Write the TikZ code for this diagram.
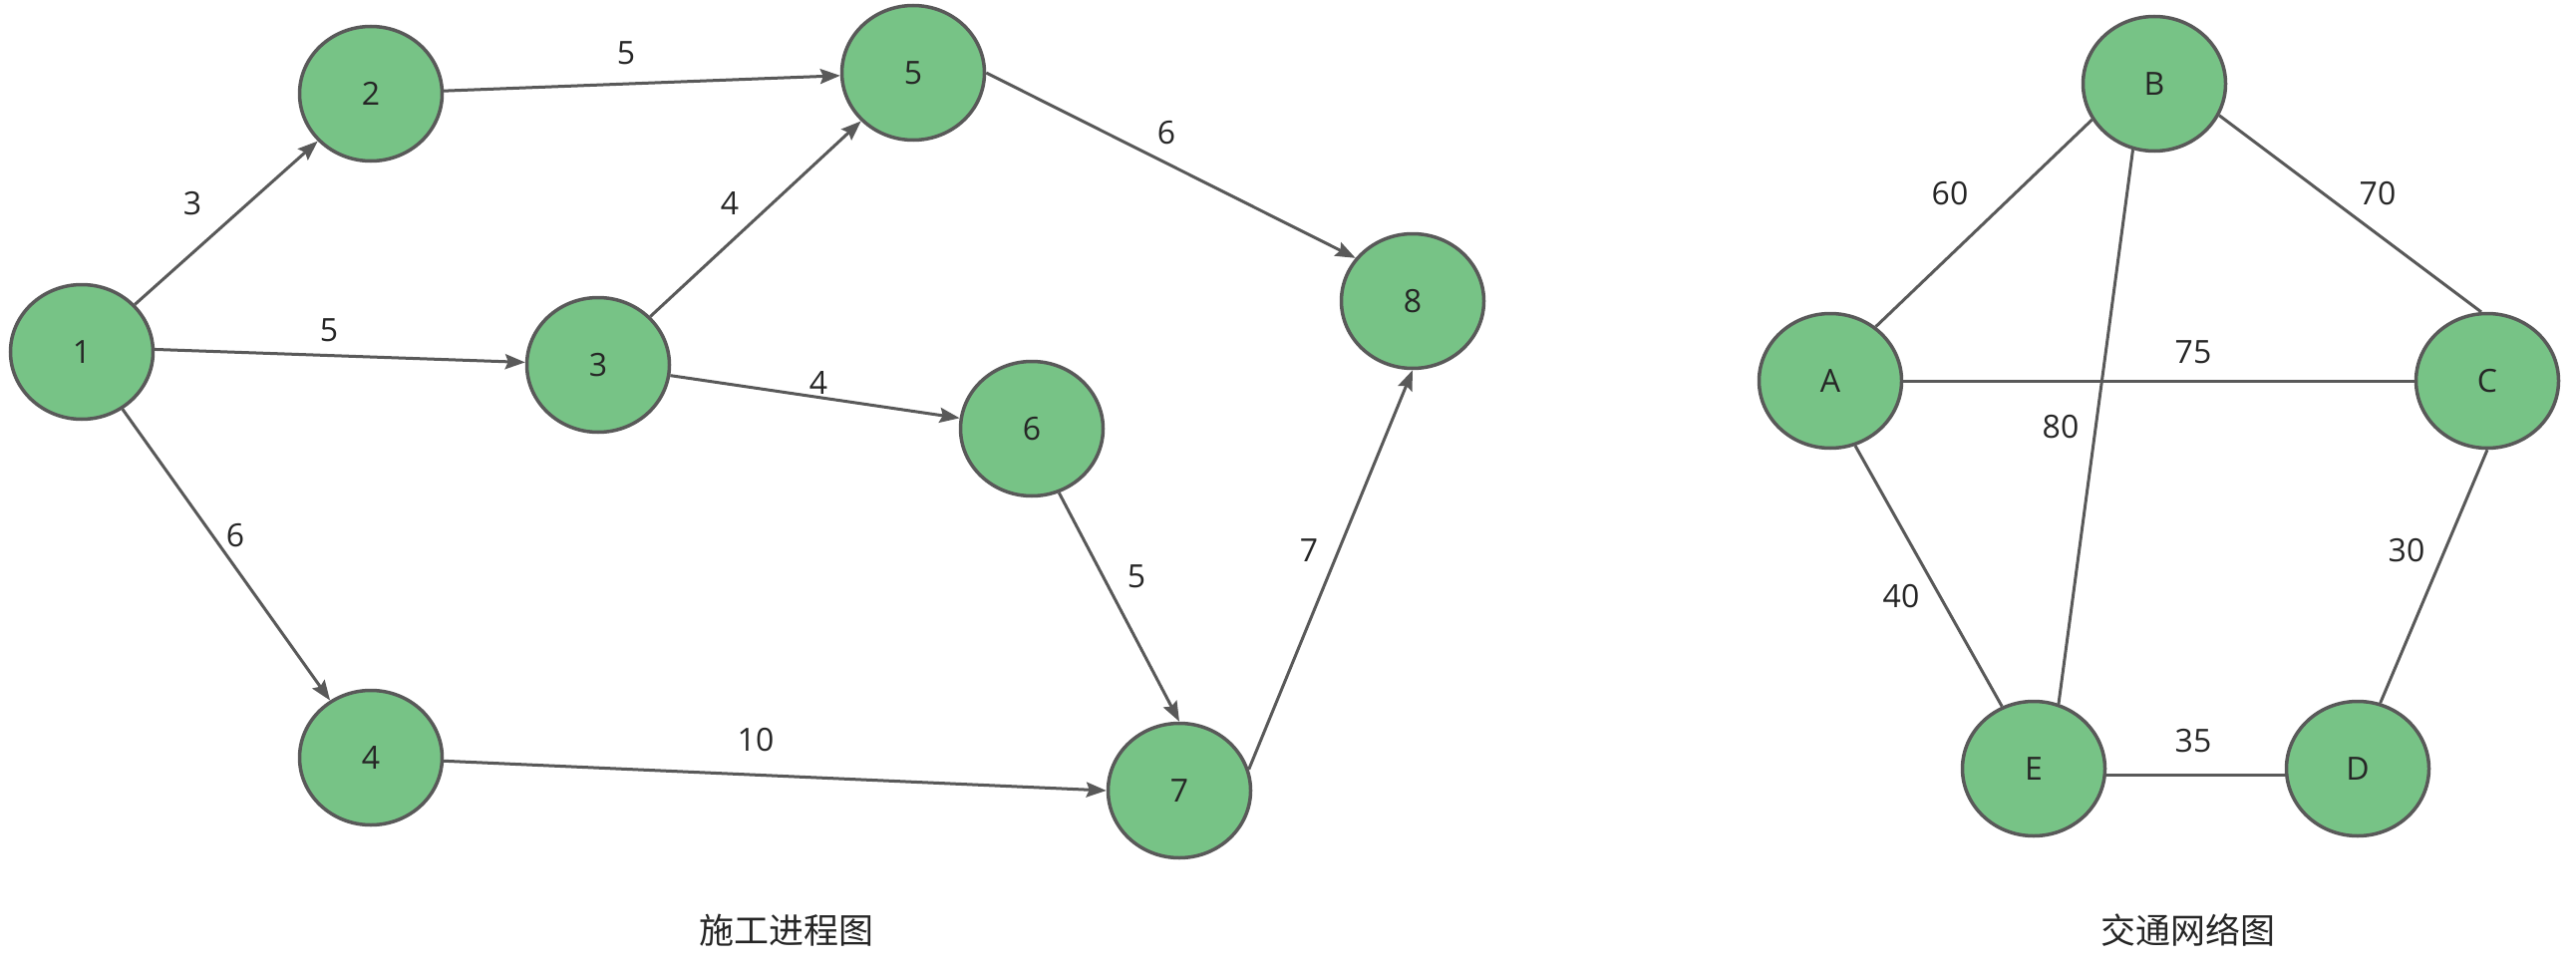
\documentclass[tikz,border=0pt]{standalone}
\usepackage{fontspec}
\setmainfont{Open Sans}
\newfontfamily\cjk{Noto Sans CJK SC}
\usetikzlibrary{arrows.meta,shapes.geometric}
\definecolor{nodegreen}{HTML}{77C386}
\definecolor{edgegrey}{HTML}{595959}
\begin{document}
\begin{tikzpicture}[x=1pt,y=-1pt,
  vert/.style={ellipse, draw=edgegrey, line width=3.5pt, fill=nodegreen, minimum width=143pt, minimum height=135pt, inner sep=0pt, font=\fontsize{32}{38}\selectfont, text=black!85},
  wlabel/.style={font=\fontsize{32}{38}\selectfont, text=black!85, inner sep=0pt},
  edge/.style={draw=edgegrey, line width=3pt},
  arr/.style={edge, -{Stealth[length=20pt, width=15pt, inset=3pt]}},
  caption/.style={font=\cjk\fontsize{35}{40}\selectfont, text=black!85, inner sep=0pt}]
\useasboundingbox (0,0) rectangle (2584,979);
\fill[white] (0,0) rectangle (2584,979);
% left graph
\node[vert] (n1) at (82,353) {1};
\node[vert] (n2) at (372,94) {2};
\node[vert] (n5) at (916,73) {5};
\node[vert] (n3) at (600,366) {3};
\node[vert] (n6) at (1035,430) {6};
\node[vert] (n8) at (1417,302) {8};
\node[vert] (n4) at (372,760) {4};
\node[vert] (n7) at (1183,793) {7};
\draw[arr] (n1) -- (n2);
\draw[arr] (n1.2) -- (n3);
\draw[arr] (n1) -- (n4);
\draw[arr] (n2) -- (n5);
\draw[arr] (n3) -- (n5);
\draw[arr] (n3) -- (n6);
\draw[arr] (n5.east) -- (n8.143);
\draw[arr] (n6.-67) -- (n7.north);
\draw[arr] (n4) -- (n7.west);
\draw[arr] (n7.17) -- (n8.south);
\node[wlabel] (l12) at (193,204) {3};
\node[wlabel] (l13) at (330,331) {5};
\node[wlabel] (l14) at (236,537) {6};
\node[wlabel] (l25) at (628,53) {5};
\node[wlabel] (l35) at (732,204) {4};
\node[wlabel] (l36) at (821,384) {4};
\node[wlabel] (l58) at (1170,133) {6};
\node[wlabel] (l67) at (1140,578) {5};
\node[wlabel] (l78) at (1313,552) {7};
\node[wlabel] (l47) at (758,742) {10};
\node[caption] (cap1) at (789,933) {施工进程图};
% right graph
\node[vert] (B) at (2161,84) {B};
\node[vert] (A) at (1836,382) {A};
\node[vert] (C) at (2495,382) {C};
\node[vert] (E) at (2040,771) {E};
\node[vert] (D) at (2365,771) {D};
\draw[edge] (A.50) -- (B.210);
\draw[edge] (B.-26) -- (C.95);
\draw[edge] (A) -- (C);
\draw[edge] (B.252) -- (E.69);
\draw[edge] (A.291) -- (E.117);
\draw[edge] (C.south) -- (D.71);
\draw[edge] (E.-5) -- (D.185);
\node[wlabel] (lab) at (1956,194) {60};
\node[wlabel] (lbc) at (2385,194) {70};
\node[wlabel] (lac) at (2200,353) {75};
\node[wlabel] (lbe) at (2067,428) {80};
\node[wlabel] (lae) at (1907,598) {40};
\node[wlabel] (lcd) at (2414,552) {30};
\node[wlabel] (led) at (2200,743) {35};
\node[caption] (cap2) at (2195,933) {交通网络图};
\end{tikzpicture}
\end{document}
